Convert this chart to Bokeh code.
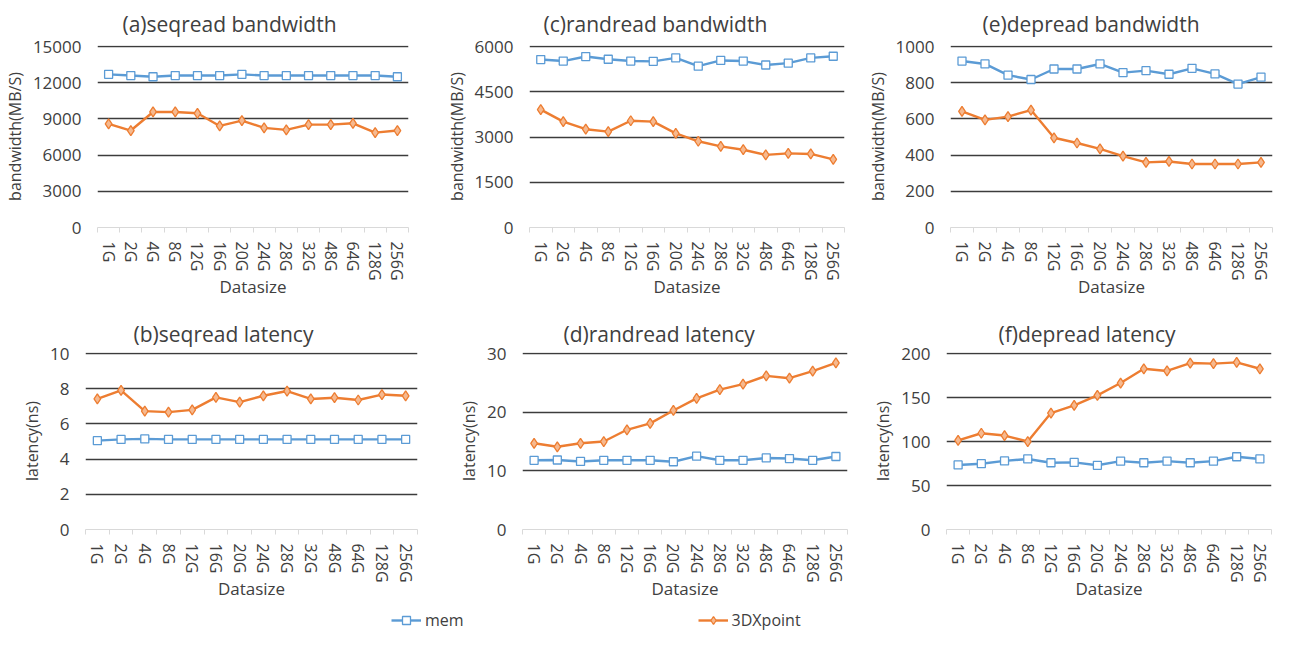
from bokeh.plotting import figure
from bokeh.models import Range1d, FixedTicker, Legend, LegendItem
from bokeh.layouts import column, row
from bokeh.embed import file_html
from bokeh.resources import INLINE

datasizes = ["1G", "2G", "4G", "8G", "12G", "16G", "20G", "24G", "28G", "32G", "48G", "64G", "128G", "256G"]

seq_bw_mem = [12700, 12600, 12500, 12600, 12600, 12600, 12700, 12600, 12600, 12600, 12600, 12600, 12600, 12500]
seq_bw_3dx = [8590, 8040, 9580, 9580, 9470, 8420, 8860, 8260, 8090, 8530, 8530, 8640, 7870, 8040]

rand_bw_mem = [5570, 5520, 5670, 5580, 5520, 5510, 5625, 5350, 5540, 5520, 5390, 5450, 5625, 5680]
rand_bw_3dx = [3910, 3510, 3260, 3180, 3540, 3510, 3120, 2860, 2690, 2580, 2410, 2460, 2440, 2260]

dep_bw_mem = [920, 904, 842, 818, 876, 876, 904, 856, 867, 847, 880, 849, 793, 831]
dep_bw_3dx = [642, 595, 613, 649, 496, 467, 435, 395, 360, 365, 351, 351, 351, 360]

seq_lat_mem = [5.05, 5.12, 5.15, 5.12, 5.12, 5.12, 5.12, 5.12, 5.12, 5.12, 5.12, 5.12, 5.12, 5.12]
seq_lat_3dx = [7.42, 7.91, 6.73, 6.67, 6.80, 7.51, 7.24, 7.60, 7.87, 7.42, 7.49, 7.36, 7.67, 7.60]

rand_lat_mem = [11.8, 11.85, 11.6, 11.8, 11.8, 11.8, 11.55, 12.5, 11.8, 11.8, 12.2, 12.1, 11.8, 12.45]
rand_lat_3dx = [14.7, 14.1, 14.7, 15.0, 17.0, 18.1, 20.3, 22.35, 23.85, 24.8, 26.2, 25.8, 27.0, 28.4]

dep_lat_mem = [73.4, 74.8, 78.0, 80.2, 75.9, 76.3, 73.0, 77.7, 75.9, 77.7, 75.9, 77.7, 82.7, 80.2]
dep_lat_3dx = [101.4, 109.4, 106.8, 100.0, 132.4, 141.0, 152.5, 166.5, 182.7, 180.2, 189.2, 188.5, 190.0, 182.7]

series_names = ["mem", "3DXpoint"]

BLUE = "#5B9BD5"
ORANGE = "#ED7D31"
ORANGE_FILL = "#F6B98F"
TXT = "#404040"
GRID = "#3c3c3c"
AXIS = "#D9D9D9"
FONT = "Open Sans"

xpos = [i + 1 for i in range(len(datasizes))]


def add_series(p, mem, xp):
    r1 = p.line(xpos, mem, line_color=BLUE, line_width=2.4)
    s1 = p.scatter(xpos, mem, marker="square", size=8, line_color=BLUE, fill_color="white", line_width=1.3)
    r2 = p.line(xpos, xp, line_color=ORANGE, line_width=2.4)
    s2 = p.scatter(xpos, xp, marker="diamond", size=10, line_color=ORANGE, fill_color=ORANGE_FILL, line_width=1.3)
    return r1, s1, r2, s2


def panel(title, ylabel, mem, xp, ymax, ystep, width, height, left, right, top, bottom, toff, tstand):
    p = figure(width=width, height=height, output_backend="svg", toolbar_location=None,
               x_range=Range1d(0.5, len(datasizes) + 0.5), y_range=Range1d(0, ymax * 1.006),
               min_border_left=left, min_border_right=right, min_border_top=top,
               min_border_bottom=bottom, title=title)
    p.outline_line_color = None
    p.background_fill_color = "white"
    p.border_fill_color = "white"
    p.title.text_font = FONT
    p.title.text_font_size = "21px"
    p.title.text_font_style = "normal"
    p.title.text_color = TXT
    p.title.align = "left"
    p.title.offset = toff
    p.title.standoff = tstand

    yt = [ystep * k for k in range(int(round(ymax / ystep)) + 1)]
    p.yaxis.ticker = FixedTicker(ticks=yt)
    p.ygrid.ticker = FixedTicker(ticks=yt[1:])
    p.ygrid.grid_line_color = GRID
    p.ygrid.grid_line_width = 1.6
    p.xgrid.grid_line_color = None
    p.yaxis.axis_line_color = None
    p.yaxis.major_tick_line_color = None
    p.yaxis.minor_tick_line_color = None
    p.yaxis.major_tick_out = 0
    p.yaxis.major_label_text_font = FONT
    p.yaxis.major_label_text_font_size = "17px"
    p.yaxis.major_label_text_color = TXT
    p.yaxis.major_label_standoff = 16
    p.yaxis.axis_label = ylabel
    p.yaxis.axis_label_text_font = FONT
    p.yaxis.axis_label_text_font_size = "16px"
    p.yaxis.axis_label_text_font_style = "normal"
    p.yaxis.axis_label_text_color = TXT
    p.yaxis.axis_label_standoff = 4

    p.xaxis.ticker = FixedTicker(ticks=xpos, minor_ticks=[x - 0.5 for x in xpos] + [xpos[-1] + 0.5])
    p.xaxis.major_label_overrides = {x: lab for x, lab in zip(xpos, datasizes)}
    p.xaxis.major_label_orientation = "vertical"
    p.xaxis.major_label_text_font = FONT
    p.xaxis.major_label_text_font_size = "16px"
    p.xaxis.major_label_text_color = TXT
    p.xaxis.major_label_standoff = 9
    p.xaxis.axis_line_color = AXIS
    p.xaxis.axis_line_width = 1.2
    p.xaxis.major_tick_line_color = None
    p.xaxis.major_tick_out = 0
    p.xaxis.major_tick_in = 0
    p.xaxis.minor_tick_line_color = AXIS
    p.xaxis.minor_tick_out = 5
    p.xaxis.minor_tick_in = 0
    p.xaxis.axis_label = "Datasize"
    p.xaxis.axis_label_text_font = FONT
    p.xaxis.axis_label_text_font_size = "17px"
    p.xaxis.axis_label_text_font_style = "normal"
    p.xaxis.axis_label_text_color = TXT
    p.xaxis.axis_label_standoff = -9

    add_series(p, mem, xp)
    return p


H1, H2, HL = 301, 302, 28
pa = panel("(a)seqread bandwidth", "bandwidth(MB/S)", seq_bw_mem, seq_bw_3dx, 15000, 3000,
           425, H1, 90, 17, 42, 74, 25, 15)
pc = panel("(c)randread bandwidth", "bandwidth(MB/S)", rand_bw_mem, rand_bw_3dx, 6000, 1500,
           427, H1, 104, 8, 42, 74, 14, 15)
pe = panel("(e)depread bandwidth", "bandwidth(MB/S)", dep_bw_mem, dep_bw_3dx, 1000, 200,
           424, H1, 98, 4, 42, 74, 32, 15)
pb = panel("(b)seqread latency", "latency(ns)", seq_lat_mem, seq_lat_3dx, 10, 2,
           425, H2, 85, 8, 51, 74, 48, 9)
pd = panel("(d)randread latency", "latency(ns)", rand_lat_mem, rand_lat_3dx, 30, 10,
           427, H2, 97, 5, 51, 74, 41, 9)
pf = panel("(f)depread latency", "latency(ns)", dep_lat_mem, dep_lat_3dx, 200, 50,
           424, H2, 94, 5, 51, 74, 52, 9)

# legend strip: series drawn out of view, only the legend shows
pl = figure(width=1276, height=HL, output_backend="svg", toolbar_location=None,
            x_range=Range1d(-100, -99), y_range=Range1d(-100, -99),
            min_border_left=0, min_border_right=0, min_border_top=0, min_border_bottom=0)
pl.axis.visible = False
pl.grid.visible = False
pl.outline_line_color = None
r1, s1, r2, s2 = add_series(pl, seq_bw_mem, seq_bw_3dx)
leg = Legend(items=[LegendItem(label=series_names[0], renderers=[r1, s1]),
                    LegendItem(label=series_names[1], renderers=[r2, s2])],
             orientation="horizontal", location=(391, 0), spacing=234,
             glyph_width=30, glyph_height=20, label_standoff=4, padding=0, margin=0,
             border_line_color=None, background_fill_alpha=0,
             label_text_font=FONT, label_text_font_size="16px", label_text_color=TXT)
pl.add_layout(leg, "center")

layout = column(row(pa, pc, pe), row(pb, pd, pf), pl)
open("out.html", "w").write(file_html(layout, INLINE))
